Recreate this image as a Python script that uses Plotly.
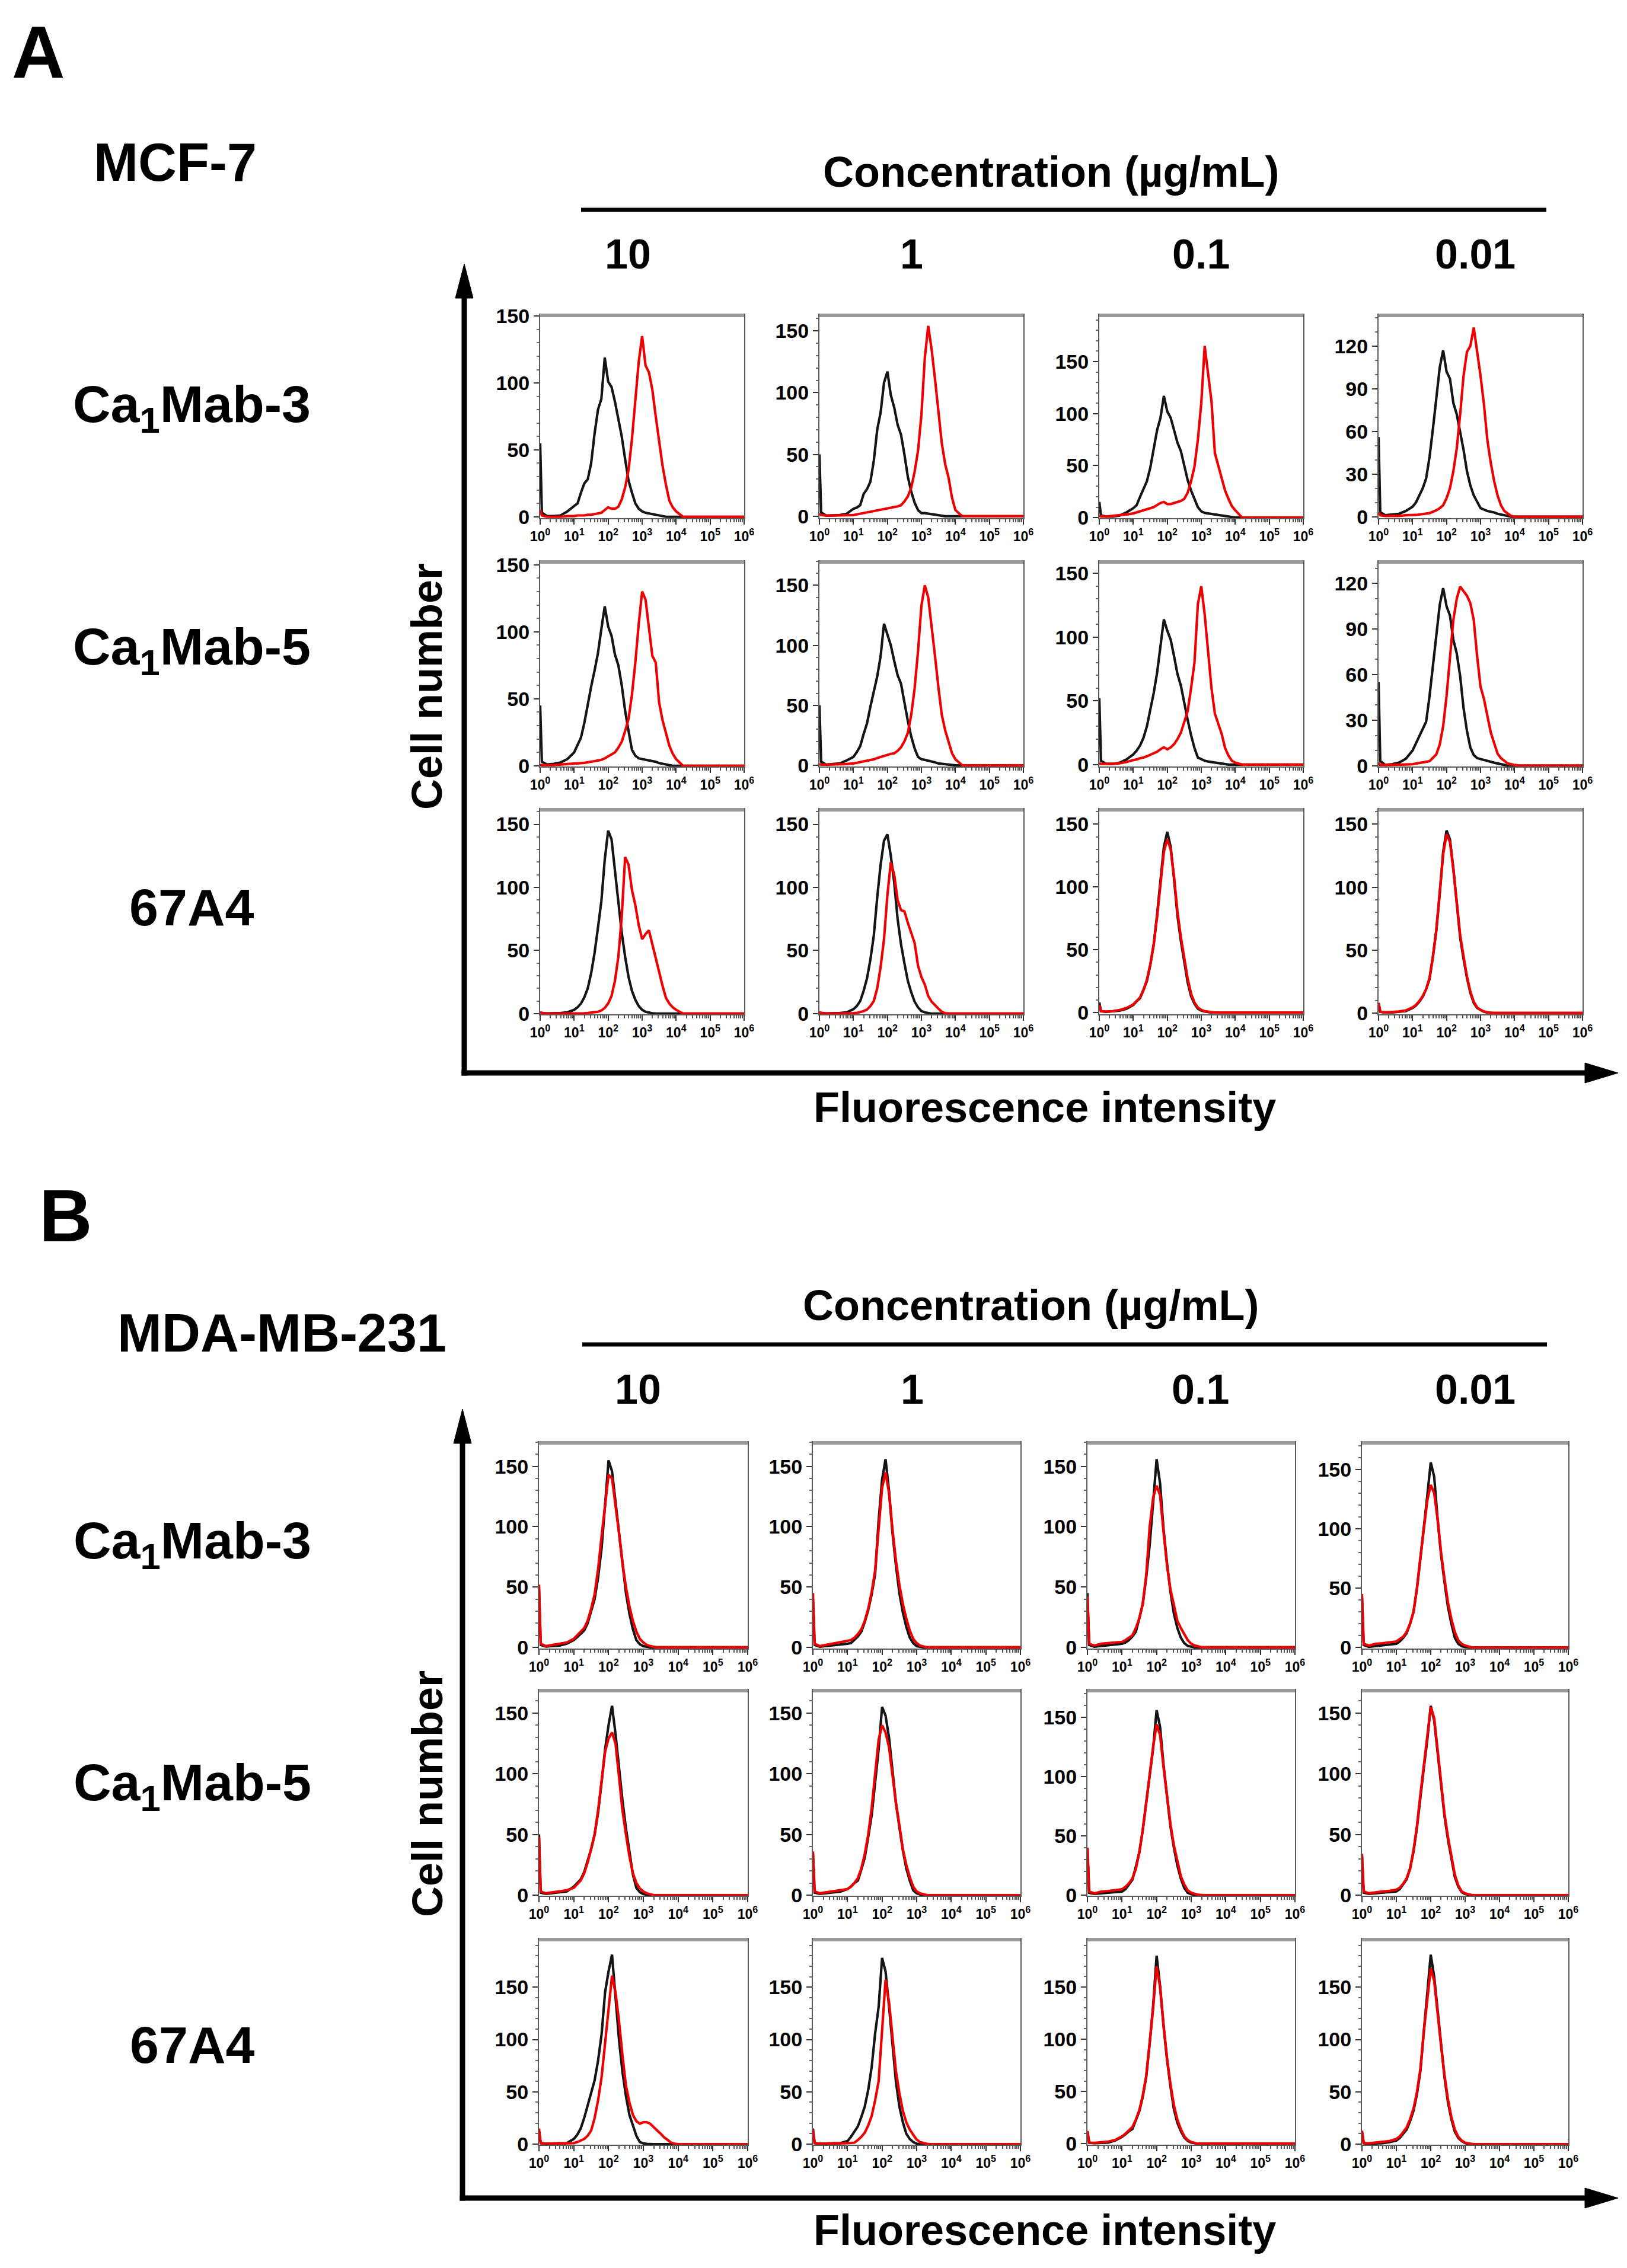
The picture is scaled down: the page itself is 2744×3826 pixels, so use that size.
import plotly.graph_objects as go

W, H = 2744, 3826
FONT = "Liberation Sans, Arial, Helvetica, sans-serif"
NARROW = "Liberation Sans Narrow, Liberation Sans, Arial, sans-serif"

# fluorescence channel position (decades, 10^x) shared by every histogram
GRID = [0.0, 0.05, 0.2, 0.4, 0.6, 0.8,
        1.0, 1.1, 1.2, 1.3, 1.4, 1.5, 1.6, 1.7, 1.8, 1.9,
        2.0, 2.1, 2.2, 2.3, 2.4, 2.5, 2.6, 2.7, 2.8, 2.9,
        3.0, 3.1, 3.2, 3.3, 3.4, 3.5, 3.6, 3.7, 3.8, 3.9,
        4.0, 4.2, 4.4, 6.0]

CONCENTRATIONS = ["10", "1", "0.1", "0.01"]
ANTIBODIES = ["Ca<sub>1</sub>Mab-3", "Ca<sub>1</sub>Mab-5", "67A4"]
XTICK_TEXT = ["10<sup>0</sup>", "10<sup>1</sup>", "10<sup>2</sup>", "10<sup>3</sup>",
              "10<sup>4</sup>", "10<sup>5</sup>", "10<sup>6</sup>"]

# ---- MCF-7 : cell counts, control (black) and antibody (red) ----
MCF7_CAMAB3_10_CTRL = [55, 3, 0.5, 0.5, 1, 4,
                       8, 10, 18, 25, 28, 40, 62, 80, 88, 119,
                       101, 97, 86, 73, 60, 43, 27, 18, 10, 6,
                       4, 3, 2.5, 2, 1.5, 1, 0.5, 0, 0, 0,
                       0, 0, 0, 0]
MCF7_CAMAB3_10_STAIN = [5, 1, 0, 0, 0, 0.5,
                        0.5, 1, 1, 1, 1.5, 1.5, 2, 2.5, 3, 5,
                        7, 6, 6, 7.5, 13, 22, 35, 58, 86, 116,
                        135, 113, 108, 95, 75, 55, 38, 24, 12, 7,
                        4, 0, 0, 0]
MCF7_CAMAB3_1_CTRL = [50, 3, 0.5, 0.5, 1, 2,
                      6, 7, 9, 18, 22, 28, 45, 70, 84, 108,
                      117, 98, 88, 74, 66, 50, 32, 20, 11, 5,
                      2.5, 2.5, 2, 1.8, 1.2, 0.6, 0, 0, 0, 0,
                      0, 0, 0, 0]
MCF7_CAMAB3_1_STAIN = [2, 1, 0.5, 0.5, 0.5, 1,
                       1, 1.5, 2, 2.5, 3, 3.5, 4, 5, 5.5, 6,
                       6.5, 7, 7.5, 8, 9, 12, 16, 23, 36, 53,
                       82, 128, 154, 135, 111, 86, 59, 42, 31, 15,
                       5, 0, 0, 0]
MCF7_CAMAB3_01_CTRL = [15, 2, 1, 1, 2, 5,
                       9, 12, 20, 28, 35, 48, 66, 84, 96, 117,
                       102, 96, 84, 72, 64, 49, 36, 26, 18, 10,
                       6, 4.5, 4, 3.5, 3, 2.5, 2, 1.5, 1, 0,
                       0, 0, 0, 0]
MCF7_CAMAB3_01_STAIN = [2, 1, 1, 1.5, 2, 3,
                        4, 5, 6, 7, 8, 9, 10, 12, 14, 15,
                        13, 13, 14, 15, 16, 18, 24, 35, 49, 75,
                        110, 165, 140, 112, 62, 50, 37, 26, 18, 11,
                        7, 0, 0, 0]
MCF7_CAMAB3_001_CTRL = [56, 3, 1, 1.5, 2, 4,
                        7, 10, 15, 20, 27, 42, 62, 85, 105, 117,
                        102, 97, 80, 72, 60, 47, 32, 22, 15, 10,
                        6, 5, 4, 3.5, 3, 2, 1.5, 1, 0.5, 0,
                        0, 0, 0, 0]
MCF7_CAMAB3_001_STAIN = [3, 1, 0.5, 0.5, 0.5, 1,
                         1, 1.2, 1.5, 1.8, 2, 2.5, 3.5, 4.5, 6, 8,
                         13, 20, 32, 48, 72, 99, 116, 120, 133, 117,
                         99, 79, 54, 38, 25, 15, 8, 4, 2, 0.5,
                         0, 0, 0, 0]

MCF7_CAMAB5_10_CTRL = [45, 3, 1, 1.5, 2.5, 5,
                       10, 15, 21, 32, 46, 59, 71, 84, 102, 119,
                       104, 97, 83, 75, 60, 41, 26, 12, 7.5, 5.6,
                       5, 4.5, 4, 3.5, 3, 2, 1.5, 1, 0.5, 0,
                       0, 0, 0, 0]
MCF7_CAMAB5_10_STAIN = [1, 0.5, 0.5, 0.5, 1, 1.2,
                        1.5, 1.8, 2, 2.2, 2.5, 3, 3.5, 4, 4.5, 5.5,
                        7, 8, 10, 13.5, 18, 26, 35, 53, 77, 106,
                        130, 124, 104, 82, 77, 47, 34, 25, 15, 9,
                        5, 0, 0, 0]
MCF7_CAMAB5_1_CTRL = [50, 3, 0.5, 1, 1.5, 4,
                      7, 11, 16, 26, 35, 49, 61, 74, 91, 118,
                      109, 100, 87, 75, 68, 51, 37, 24, 14, 7,
                      5, 4.5, 4, 3, 2.5, 1.5, 1.2, 0.8, 0.5, 0,
                      0, 0, 0, 0]
MCF7_CAMAB5_1_STAIN = [1, 0.5, 0.5, 0.5, 1, 1,
                       1.5, 2, 2.5, 3, 3.5, 4, 5, 6, 7, 8,
                       9, 9.5, 10, 12, 15, 20, 27, 42, 64, 95,
                       133, 150, 140, 117, 91, 65, 42, 29, 19, 10,
                       5, 0, 0, 0]
MCF7_CAMAB5_01_CTRL = [52, 3, 0.5, 0.5, 1.5, 4,
                       8, 11, 15, 21, 30, 43, 56, 72, 95, 114,
                       105, 98, 85, 71, 62, 48, 35, 23, 13, 5.5,
                       4, 3, 2.4, 2, 1.5, 1, 0.8, 0.3, 0, 0,
                       0, 0, 0, 0]
MCF7_CAMAB5_01_STAIN = [1, 0.5, 0.5, 0.5, 1, 2,
                        3.5, 4, 5, 5.5, 6.5, 7.5, 8.5, 10, 12, 13.5,
                        12, 13.5, 16, 20, 25, 33, 42, 60, 80, 126,
                        140, 118, 88, 60, 40, 32, 24, 13, 7, 3,
                        1.5, 0, 0, 0]
MCF7_CAMAB5_001_CTRL = [55, 3, 0.5, 1, 2, 4.5,
                        10, 15, 20, 24, 29, 46, 66, 87, 106, 117,
                        105, 99, 83, 74, 59, 38, 23, 12, 7, 5,
                        4.2, 3.8, 3.2, 2.8, 2, 1.5, 1, 0.5, 0, 0,
                        0, 0, 0, 0]
MCF7_CAMAB5_001_STAIN = [2, 0.5, 0.5, 0.5, 0.8, 0.8,
                         1, 1.5, 1.8, 2.2, 2.6, 3, 5, 7.5, 14, 26,
                         46, 72, 96, 110, 118, 115, 112, 107, 96, 72,
                         52, 44, 32, 22, 15, 8, 5, 3, 1.5, 1,
                         0.5, 0, 0, 0]

MCF7_67A4_10_CTRL = [1, 0.5, 0.2, 0.2, 0.5, 1,
                     3, 5, 8, 13, 20, 32, 48, 68, 89, 122,
                     145, 138, 114, 87, 64, 45, 29, 18, 11, 6,
                     3, 1.5, 0.8, 0.3, 0, 0, 0, 0, 0, 0,
                     0, 0, 0, 0]
MCF7_67A4_10_STAIN = [1, 0.5, 0, 0, 0, 0,
                      0, 0, 0.2, 0.3, 0.5, 0.8, 1, 1.5, 2.5, 4.5,
                      8, 14, 26, 45, 77, 124, 118, 98, 86, 70,
                      59, 63, 66, 55, 43, 32, 22, 12.5, 8, 5,
                      3, 0, 0, 0]
MCF7_67A4_1_CTRL = [1, 0.5, 0.2, 0.3, 0.5, 1,
                    3.5, 6, 10, 18, 28, 43, 62, 92, 118, 137,
                    142, 125, 104, 75, 55, 40, 26, 17, 9.5, 5,
                    2, 1, 0.3, 0, 0, 0, 0, 0, 0, 0,
                    0, 0, 0, 0]
MCF7_67A4_1_STAIN = [1, 0.5, 0, 0, 0, 0.2,
                     0.4, 0.6, 1.2, 2, 3.2, 6, 10, 20, 37, 59,
                     94, 120, 110, 90, 82, 81, 72, 64, 56, 38,
                     29, 23, 14, 9.5, 6.5, 4, 1.5, 0.3, 0, 0,
                     0, 0, 0, 0]
MCF7_67A4_01_CTRL = [8, 1, 0.5, 0.8, 1.5, 3,
                     6, 9, 11.5, 18, 25, 38, 54, 78, 105, 132,
                     144, 132, 106, 77, 57, 40, 24, 13, 7, 3,
                     1.5, 0.8, 0.3, 0, 0, 0, 0, 0, 0, 0,
                     0, 0, 0, 0]
MCF7_67A4_01_STAIN = [6, 1, 0.8, 1, 2, 3.5,
                      6.5, 9, 12, 18, 26, 38, 54, 76, 102, 128,
                      138, 130, 108, 80, 60, 44, 27, 15, 8, 4,
                      2, 1, 0.5, 0, 0, 0, 0, 0, 0, 0,
                      0, 0, 0, 0]
MCF7_67A4_001_CTRL = [8, 1, 0.5, 0.5, 1, 1.5,
                      4, 6, 9, 13, 19, 27, 45, 66, 95, 128,
                      145, 138, 115, 85, 60, 43, 28, 16, 8, 4,
                      2.3, 1, 0.3, 0, 0, 0, 0, 0, 0, 0,
                      0, 0, 0, 0]
MCF7_67A4_001_STAIN = [8, 1, 0.5, 0.8, 1.2, 2,
                       4.5, 6.5, 9.5, 13.5, 19, 28, 45, 66, 94, 126,
                       142, 136, 114, 86, 62, 45, 29, 17, 9, 4.5,
                       2.5, 1.2, 0.5, 0, 0, 0, 0, 0, 0, 0,
                       0, 0, 0, 0]

# ---- MDA-MB-231 ----
MDA_CAMAB3_10_CTRL = [50, 2, 0.6, 1, 1.5, 3,
                      6, 8.5, 11, 14, 20, 30, 40, 58, 82, 118,
                      155, 146, 120, 96, 68, 45, 28, 15, 6, 2.5,
                      1, 0.3, 0, 0, 0, 0, 0, 0, 0, 0,
                      0, 0, 0, 0]
MDA_CAMAB3_10_STAIN = [52, 3, 1, 2, 2.5, 4,
                       7, 10, 13, 16, 22, 32, 44, 65, 92, 118,
                       143, 140, 118, 95, 70, 50, 34, 22, 13, 7,
                       4, 2, 1, 0.3, 0, 0, 0, 0, 0, 0,
                       0, 0, 0, 0]
MDA_CAMAB3_1_CTRL = [40, 2, 0.5, 1, 1.5, 2.5,
                     3, 3.5, 6, 9, 13, 21, 31, 44, 61, 105,
                     139, 156, 130, 95, 68, 45, 29, 17, 8, 3.5,
                     1, 0.3, 0, 0, 0, 0, 0, 0, 0, 0,
                     0, 0, 0, 0]
MDA_CAMAB3_1_STAIN = [45, 3, 1, 2, 3, 4,
                      5, 6, 8, 11, 15, 22, 32, 46, 64, 100,
                      132, 145, 128, 98, 72, 52, 36, 24, 14, 7,
                      3.5, 1.5, 0.5, 0, 0, 0, 0, 0, 0, 0,
                      0, 0, 0, 0]
MDA_CAMAB3_01_CTRL = [45, 2, 0.5, 1, 1.5, 2.5,
                      3, 4, 6, 9, 13, 24, 36, 58, 85, 120,
                      156, 136, 98, 70, 46, 28, 16, 8, 3.5, 1.2,
                      0.5, 0, 0, 0, 0, 0, 0, 0, 0, 0,
                      0, 0, 0, 0]
MDA_CAMAB3_01_STAIN = [42, 3, 1.5, 3, 3.5, 4,
                       4.5, 6, 8, 10, 16, 24, 36, 60, 100, 124,
                       134, 126, 96, 68, 48, 35, 22, 16, 11, 6,
                       3, 1.5, 0.8, 0, 0, 0, 0, 0, 0, 0,
                       0, 0, 0, 0]
MDA_CAMAB3_001_CTRL = [42, 2, 0.5, 1, 1.5, 2.5,
                       3, 5, 8, 12, 20, 30, 50, 75, 100, 128,
                       156, 144, 108, 78, 55, 34, 20, 8, 3, 1,
                       0.3, 0, 0, 0, 0, 0, 0, 0, 0, 0,
                       0, 0, 0, 0]
MDA_CAMAB3_001_STAIN = [45, 3, 1.5, 3, 3.5, 4,
                        5, 7, 9, 13, 20, 30, 50, 76, 102, 124,
                        137, 130, 108, 80, 58, 38, 24, 13, 6, 3,
                        1.5, 0.5, 0, 0, 0, 0, 0, 0, 0, 0,
                        0, 0, 0, 0]

MDA_CAMAB5_10_CTRL = [50, 2, 1, 1.5, 2, 3,
                      7, 10, 13, 19, 28, 38, 50, 68, 93, 120,
                      140, 156, 133, 104, 78, 55, 35, 17, 6, 2.5,
                      0.8, 0.3, 0, 0, 0, 0, 0, 0, 0, 0,
                      0, 0, 0, 0]
MDA_CAMAB5_10_STAIN = [48, 3, 1.5, 2.5, 3, 4,
                       6, 9, 12, 18, 27, 38, 50, 70, 93, 118,
                       129, 134, 125, 96, 70, 50, 32, 18, 10, 5.5,
                       3, 1.5, 0.5, 0, 0, 0, 0, 0, 0, 0,
                       0, 0, 0, 0]
MDA_CAMAB5_1_CTRL = [35, 2, 1, 1.5, 2, 3,
                     5, 7, 10, 12, 21, 31, 48, 66, 93, 120,
                     155, 148, 130, 104, 76, 56, 37, 22, 12, 4,
                     1.5, 0.5, 0, 0, 0, 0, 0, 0, 0, 0,
                     0, 0, 0, 0]
MDA_CAMAB5_1_STAIN = [36, 3, 1.5, 2.5, 3, 4,
                      5, 7, 10, 14, 22, 34, 50, 72, 100, 128,
                      140, 134, 122, 98, 76, 58, 38, 25, 15, 7,
                      3, 1.5, 0.5, 0, 0, 0, 0, 0, 0, 0,
                      0, 0, 0, 0]
MDA_CAMAB5_01_CTRL = [40, 2, 1, 1.5, 2, 2.5,
                      3, 5, 9, 13, 24, 36, 55, 78, 102, 124,
                      156, 142, 110, 82, 58, 40, 25, 14, 6, 2,
                      0.8, 0.2, 0, 0, 0, 0, 0, 0, 0, 0,
                      0, 0, 0, 0]
MDA_CAMAB5_01_STAIN = [40, 3, 1.5, 3, 3.5, 4,
                       5, 7, 10, 14, 22, 36, 55, 78, 102, 125,
                       144, 135, 108, 84, 60, 42, 28, 16, 9, 4,
                       2, 1, 0.3, 0, 0, 0, 0, 0, 0, 0,
                       0, 0, 0, 0]
MDA_CAMAB5_001_CTRL = [32, 2, 1, 1.5, 2, 2.5,
                       3, 5, 9, 13, 22, 36, 56, 82, 105, 128,
                       156, 144, 118, 90, 65, 46, 29, 15, 7, 2.5,
                       0.8, 0.2, 0, 0, 0, 0, 0, 0, 0, 0,
                       0, 0, 0, 0]
MDA_CAMAB5_001_STAIN = [34, 3, 1.5, 2.5, 3, 3.5,
                        4.5, 6, 9.5, 14, 22, 37, 57, 83, 106, 128,
                        155, 146, 118, 92, 67, 48, 32, 17, 8, 3,
                        1.5, 0.5, 0, 0, 0, 0, 0, 0, 0, 0,
                        0, 0, 0, 0]

MDA_67A4_10_CTRL = [12, 1, 0.5, 0.5, 0.5, 1,
                    5, 9, 15, 25, 37, 50, 61, 80, 105, 145,
                    165, 181, 138, 100, 69, 46, 28, 17, 8, 2,
                    0.8, 0.3, 0, 0, 0, 0, 0, 0, 0, 0,
                    0, 0, 0, 0]
MDA_67A4_10_STAIN = [15, 1, 0.5, 0.5, 0.5, 0.8,
                     1, 2, 3.5, 5, 8, 13, 25, 42, 64, 98,
                     133, 161, 145, 118, 85, 56, 40, 28, 22, 19.5,
                     21, 21, 19.5, 16, 13, 10, 6.5, 4, 1.5, 0.5,
                     0, 0, 0, 0]
MDA_67A4_1_CTRL = [15, 1, 0.5, 0.5, 0.5, 1,
                   3, 7, 12, 17, 26, 36, 52, 74, 106, 131,
                   178, 165, 132, 93, 60, 36, 21, 10, 5, 2,
                   0.5, 0, 0, 0, 0, 0, 0, 0, 0, 0,
                   0, 0, 0, 0]
MDA_67A4_1_STAIN = [14, 1, 0.5, 0.5, 0.5, 0.8,
                    1, 1.2, 1.5, 4, 7, 11, 18, 27, 42, 60,
                    106, 157, 136, 102, 70, 49, 32, 21, 14, 9,
                    4.5, 2, 1, 0.3, 0, 0, 0, 0, 0, 0,
                    0, 0, 0, 0]
MDA_67A4_01_CTRL = [12, 1, 0.5, 0.5, 1, 3,
                    6.5, 9, 12, 14, 22, 31, 45, 64, 96, 132,
                    180, 151, 113, 81, 55, 33, 20, 12, 6, 2.5,
                    1, 0.2, 0, 0, 0, 0, 0, 0, 0, 0,
                    0, 0, 0, 0]
MDA_67A4_01_STAIN = [12, 1, 0.8, 1.5, 2, 3.5,
                     7, 9.5, 12.5, 16, 23, 32, 46, 65, 97, 130,
                     170, 150, 114, 82, 57, 37, 23, 14, 7, 3.5,
                     1.5, 0.5, 0, 0, 0, 0, 0, 0, 0, 0,
                     0, 0, 0, 0]
MDA_67A4_001_CTRL = [12, 1, 0.5, 0.5, 1, 2,
                     3.5, 6, 10, 14, 22, 32, 48, 70, 108, 144,
                     181, 160, 127, 94, 64, 40, 24, 12, 6, 3,
                     1, 0.3, 0, 0, 0, 0, 0, 0, 0, 0,
                     0, 0, 0, 0]
MDA_67A4_001_STAIN = [13, 1, 0.8, 1.5, 2, 3,
                      5, 7.5, 11.5, 16, 24, 34, 50, 72, 108, 140,
                      168, 156, 124, 94, 66, 43, 26, 14, 7, 3.5,
                      1.5, 0.5, 0, 0, 0, 0, 0, 0, 0, 0,
                      0, 0, 0, 0]

MCF7_CURVES = [
    [(MCF7_CAMAB3_10_CTRL, MCF7_CAMAB3_10_STAIN), (MCF7_CAMAB3_1_CTRL, MCF7_CAMAB3_1_STAIN),
     (MCF7_CAMAB3_01_CTRL, MCF7_CAMAB3_01_STAIN), (MCF7_CAMAB3_001_CTRL, MCF7_CAMAB3_001_STAIN)],
    [(MCF7_CAMAB5_10_CTRL, MCF7_CAMAB5_10_STAIN), (MCF7_CAMAB5_1_CTRL, MCF7_CAMAB5_1_STAIN),
     (MCF7_CAMAB5_01_CTRL, MCF7_CAMAB5_01_STAIN), (MCF7_CAMAB5_001_CTRL, MCF7_CAMAB5_001_STAIN)],
    [(MCF7_67A4_10_CTRL, MCF7_67A4_10_STAIN), (MCF7_67A4_1_CTRL, MCF7_67A4_1_STAIN),
     (MCF7_67A4_01_CTRL, MCF7_67A4_01_STAIN), (MCF7_67A4_001_CTRL, MCF7_67A4_001_STAIN)],
]
MDA_CURVES = [
    [(MDA_CAMAB3_10_CTRL, MDA_CAMAB3_10_STAIN), (MDA_CAMAB3_1_CTRL, MDA_CAMAB3_1_STAIN),
     (MDA_CAMAB3_01_CTRL, MDA_CAMAB3_01_STAIN), (MDA_CAMAB3_001_CTRL, MDA_CAMAB3_001_STAIN)],
    [(MDA_CAMAB5_10_CTRL, MDA_CAMAB5_10_STAIN), (MDA_CAMAB5_1_CTRL, MDA_CAMAB5_1_STAIN),
     (MDA_CAMAB5_01_CTRL, MDA_CAMAB5_01_STAIN), (MDA_CAMAB5_001_CTRL, MDA_CAMAB5_001_STAIN)],
    [(MDA_67A4_10_CTRL, MDA_67A4_10_STAIN), (MDA_67A4_1_CTRL, MDA_67A4_1_STAIN),
     (MDA_67A4_01_CTRL, MDA_67A4_01_STAIN), (MDA_67A4_001_CTRL, MDA_67A4_001_STAIN)],
]

# y-axis (min, max, major step) of each histogram, as drawn by the cytometer software
MCF7_YAXES = [[(-1, 151, 50), (-1.5, 163, 50), (-0.5, 195, 50), (-1, 142, 30)],
              [(-0.5, 152.5, 50), (-1, 170, 50), (-1.5, 159.5, 50), (-0.5, 134.6, 30)],
              [(-0.5, 162, 50), (-0.5, 162, 50), (-1.4, 162, 50), (-1, 162, 50)]]
MDA_YAXES = [[(-1, 170, 50), (-1, 170, 50), (-1, 170, 50), (-1, 173, 50)],
             [(-0.5, 169, 50), (-0.5, 169, 50), (-0.5, 173, 50), (-0.5, 169, 50)],
             [(-0.5, 196, 50), (-0.5, 196, 50), (-1, 196, 50), (-0.5, 196, 50)]]

# panel boxes in page pixels
A_COLS = [(903, 1247), (1374, 1718), (1846, 2190), (2317, 2661)]
A_ROWS = [(523, 866), (939, 1285), (1357, 1703)]
B_COLS = [(901, 1253), (1363, 1713), (1826, 2176), (2289, 2637)]
B_ROWS = [(2425, 2773), (2843, 3190), (3263, 3610)]


def px(x):
    return x / W


def py(y):
    return 1 - y / H


FLUOR = [10 ** g for g in GRID]
MINOR_X = [k * 10 ** n for n in range(6) for k in range(2, 10)]

fig = go.Figure()
layout = {}
shapes = []
annotations = []
n = 0

for curves, yaxes, cols, rows in [(MCF7_CURVES, MCF7_YAXES, A_COLS, A_ROWS),
                                  (MDA_CURVES, MDA_YAXES, B_COLS, B_ROWS)]:
    for r, (top, bot) in enumerate(rows):
        for c, (left, right) in enumerate(cols):
            n += 1
            ctrl, stain = curves[r][c]
            assert len(ctrl) == len(GRID) and len(stain) == len(GRID)
            ymin, ymax, step = yaxes[r][c]
            sfx = "" if n == 1 else str(n)
            fig.add_trace(go.Scatter(x=FLUOR, y=ctrl, mode="lines",
                                     line=dict(color="#151515", width=4.2),
                                     xaxis="x" + sfx, yaxis="y" + sfx, hoverinfo="skip"))
            fig.add_trace(go.Scatter(x=FLUOR, y=stain, mode="lines",
                                     line=dict(color="#ee0000", width=4.2),
                                     xaxis="x" + sfx, yaxis="y" + sfx, hoverinfo="skip"))
            layout["xaxis" + sfx] = dict(
                type="log", range=[0, 6], domain=[px(left), px(right)], anchor="y" + sfx,
                showline=True, linecolor="#5a5a5a", linewidth=2, mirror=True,
                showgrid=False, zeroline=False, automargin=False,
                ticks="outside", ticklen=9, tickwidth=2, tickcolor="#333",
                tickvals=[1, 10, 100, 1e3, 1e4, 1e5, 1e6], ticktext=XTICK_TEXT,
                tickfont=dict(family=NARROW, size=23, color="black", weight="bold"),
                minor=dict(tickvals=MINOR_X, ticks="outside", ticklen=5,
                           tickwidth=1.5, tickcolor="#555"))
            layout["yaxis" + sfx] = dict(
                range=[ymin, ymax], domain=[py(bot), py(top)], anchor="x" + sfx,
                showline=True, linecolor="#5a5a5a", linewidth=2, mirror=True,
                showgrid=False, zeroline=False, automargin=False,
                ticks="outside", ticklen=9, tickwidth=2, tickcolor="#333",
                tickvals=list(range(0, int(ymax) + 1, step)),
                tickfont=dict(family=FONT, size=34, color="black", weight="bold"),
                minor=dict(dtick=10, ticks="outside", ticklen=4, tickwidth=1.5,
                           tickcolor="#666"))
            # grey band along the top edge of every histogram
            shapes.append(dict(type="line", xref="paper", yref="paper",
                               x0=px(left), x1=px(right), y0=py(top + 1), y1=py(top + 1),
                               line=dict(color="#9a9a9a", width=6)))


def text(x, y, s, size, angle=0):
    annotations.append(dict(x=px(x), y=py(y), xref="paper", yref="paper", text=s,
                            showarrow=False, textangle=angle, xanchor="center",
                            yanchor="middle",
                            font=dict(family=FONT, size=size, color="black",
                                      weight="bold")))


def arrows(x0, ytip, y0, xtip):
    lw = 9
    shapes.append(dict(type="line", xref="paper", yref="paper", x0=px(x0), x1=px(x0),
                       y0=py(y0 + lw / 2), y1=py(ytip + 50),
                       line=dict(color="black", width=lw)))
    shapes.append(dict(type="line", xref="paper", yref="paper", x0=px(x0 - lw / 2),
                       x1=px(xtip - 50), y0=py(y0), y1=py(y0),
                       line=dict(color="black", width=lw)))
    shapes.append(dict(type="path", xref="paper", yref="paper", fillcolor="black",
                       line=dict(color="black", width=1),
                       path=f"M {px(x0)},{py(ytip)} L {px(x0 - 15)},{py(ytip + 58)} "
                            f"L {px(x0 + 15)},{py(ytip + 58)} Z"))
    shapes.append(dict(type="path", xref="paper", yref="paper", fillcolor="black",
                       line=dict(color="black", width=1),
                       path=f"M {px(xtip)},{py(y0)} L {px(xtip - 56)},{py(y0 - 17)} "
                            f"L {px(xtip - 56)},{py(y0 + 17)} Z"))


# ---- panel A decorations ----
text(57, 80, "A", 124)
text(287, 266, "MCF-7", 90)
text(1764, 282, "Concentration (µg/mL)", 72)
shapes.append(dict(type="line", xref="paper", yref="paper", x0=px(972), x1=px(2600),
                   y0=py(346), y1=py(346), line=dict(color="black", width=7)))
for xc, lab in zip([1051, 1530, 2018, 2480], CONCENTRATIONS):
    text(xc, 421, lab, 70)
for yc, lab in zip([679, 1088, 1523], ANTIBODIES):
    text(315, yc, lab, 88)
text(712, 1150, "Cell number", 72, -90)
text(1754, 1860, "Fluorescence intensity", 72)
arrows(775, 437, 1802, 2721)

# ---- panel B decorations ----
text(103, 2043, "B", 124)
text(467, 2241, "MDA-MB-231", 90)
text(1730, 2194, "Concentration (µg/mL)", 72)
shapes.append(dict(type="line", xref="paper", yref="paper", x0=px(974), x1=px(2601),
                   y0=py(2260), y1=py(2260), line=dict(color="black", width=7)))
for xc, lab in zip([1068, 1531, 2016, 2480], CONCENTRATIONS):
    text(xc, 2336, lab, 70)
for yc, lab in zip([2596, 3004, 3441], ANTIBODIES):
    text(316, yc, lab, 88)
text(713, 3018, "Cell number", 72, -90)
text(1754, 3754, "Fluorescence intensity", 72)
arrows(772, 2369, 3700, 2721)

fig.update_layout(**layout)
fig.update_layout(width=W, height=H, margin=dict(l=0, r=0, t=0, b=0),
                  paper_bgcolor="white", plot_bgcolor="white", showlegend=False,
                  template="none", shapes=shapes, annotations=annotations,
                  font=dict(family=FONT, color="black"))
fig.write_html("out.html")
